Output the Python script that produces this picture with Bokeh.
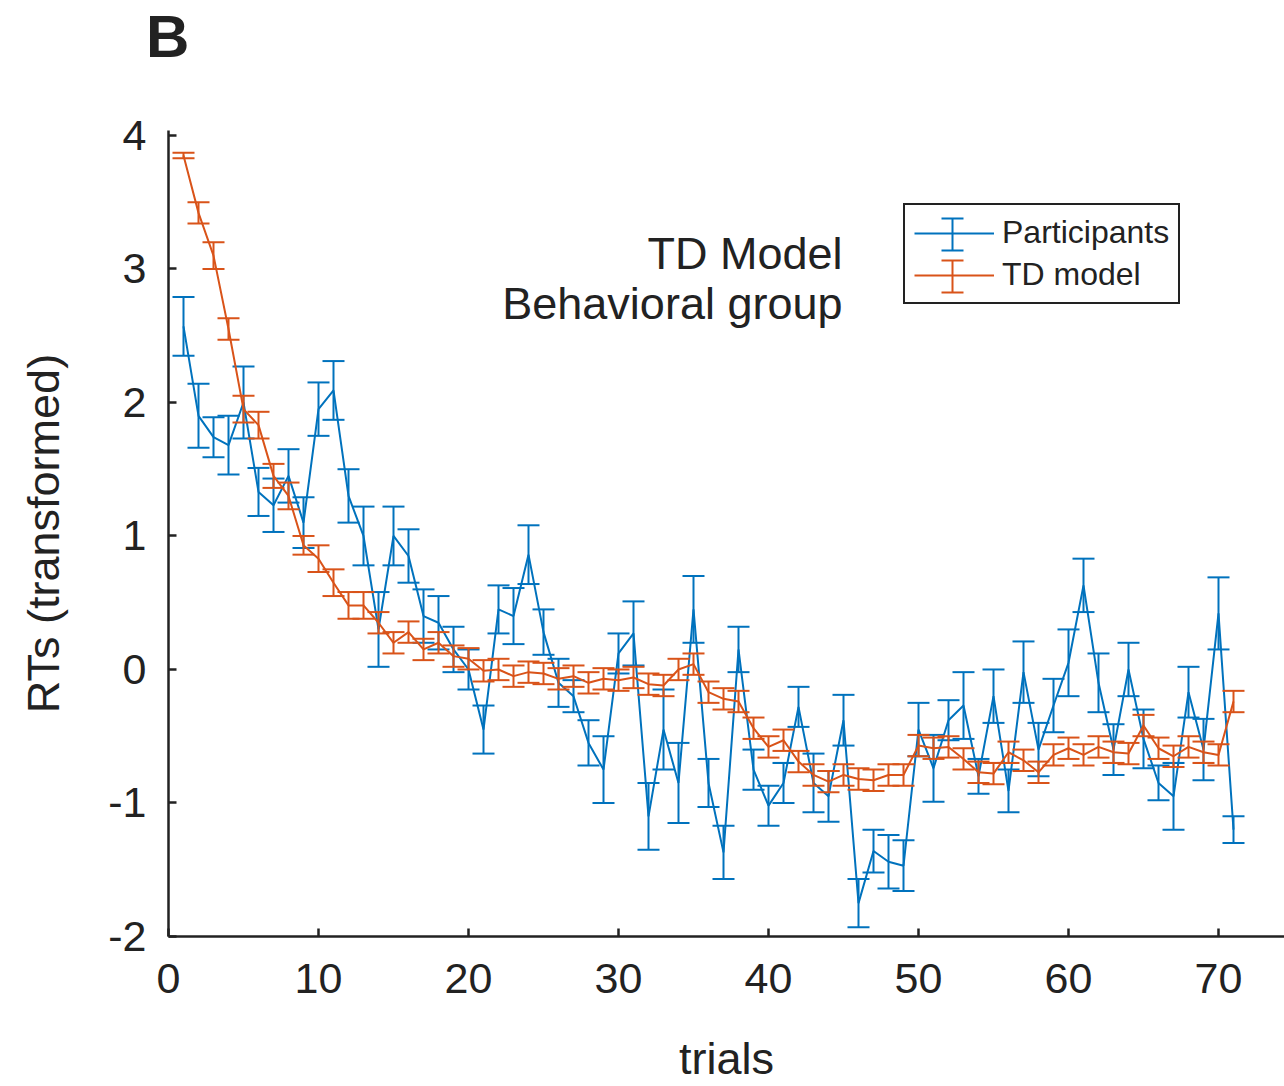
from bokeh.plotting import figure
from bokeh.layouts import column
from bokeh.models import (ColumnDataSource, Range1d, FixedTicker, Label, Legend,
                          LegendItem, Arrow, TeeHead, Div, PrintfTickFormatter)
from bokeh.embed import file_html
from bokeh.resources import INLINE

trials = list(range(1, 72))

participants_mean = [2.57, 1.90, 1.74, 1.68, 2.00, 1.33, 1.23, 1.45, 1.10, 1.95,
                     2.09, 1.30, 1.00, 0.30, 1.00, 0.85, 0.40, 0.35, 0.15, 0.00,
                     -0.45, 0.45, 0.40, 0.86, 0.28, -0.10, -0.20, -0.55, -0.75, 0.12,
                     0.27, -1.10, -0.45, -0.85, 0.45, -0.85, -1.37, 0.15, -0.75, -1.02,
                     -0.85, -0.28, -0.85, -0.95, -0.38, -1.75, -1.36, -1.44, -1.47, -0.45,
                     -0.74, -0.38, -0.27, -0.80, -0.20, -0.91, -0.02, -0.60, -0.27, 0.05,
                     0.63, -0.10, -0.60, 0.00, -0.52, -0.85, -0.95, -0.17, -0.60, 0.42,
                     -1.20]
participants_err = [0.22, 0.24, 0.15, 0.22, 0.27, 0.18, 0.20, 0.20, 0.19, 0.20,
                    0.22, 0.20, 0.22, 0.28, 0.22, 0.20, 0.20, 0.20, 0.17, 0.15,
                    0.18, 0.18, 0.21, 0.22, 0.17, 0.18, 0.12, 0.17, 0.25, 0.15,
                    0.24, 0.25, 0.30, 0.30, 0.25, 0.18, 0.20, 0.17, 0.15, 0.15,
                    0.15, 0.15, 0.22, 0.19, 0.19, 0.18, 0.16, 0.20, 0.19, 0.20,
                    0.25, 0.15, 0.25, 0.13, 0.20, 0.16, 0.23, 0.20, 0.20, 0.25,
                    0.20, 0.22, 0.19, 0.20, 0.22, 0.13, 0.25, 0.19, 0.23, 0.27,
                    0.10]

td_mean = [3.85, 3.42, 3.10, 2.55, 1.95, 1.83, 1.45, 1.30, 0.93, 0.83,
           0.65, 0.48, 0.48, 0.35, 0.20, 0.28, 0.15, 0.20, 0.10, 0.08,
           -0.01, 0.00, -0.05, -0.02, -0.03, -0.07, -0.05, -0.10, -0.07, -0.08,
           -0.06, -0.11, -0.12, 0.00, 0.04, -0.17, -0.22, -0.24, -0.44, -0.58,
           -0.53, -0.69, -0.79, -0.84, -0.79, -0.82, -0.83, -0.79, -0.79, -0.57,
           -0.59, -0.58, -0.67, -0.77, -0.78, -0.62, -0.68, -0.77, -0.64, -0.59,
           -0.64, -0.58, -0.62, -0.63, -0.42, -0.59, -0.65, -0.58, -0.62, -0.64,
           -0.24]
td_err = [0.02, 0.08, 0.10, 0.08, 0.10, 0.10, 0.09, 0.10, 0.07, 0.10,
          0.10, 0.10, 0.10, 0.08, 0.08, 0.08, 0.08, 0.08, 0.08, 0.08,
          0.08, 0.08, 0.08, 0.08, 0.08, 0.08, 0.08, 0.08, 0.08, 0.08,
          0.08, 0.08, 0.08, 0.08, 0.08, 0.08, 0.08, 0.08, 0.08, 0.08,
          0.08, 0.08, 0.08, 0.08, 0.08, 0.08, 0.08, 0.08, 0.08, 0.08,
          0.08, 0.08, 0.08, 0.08, 0.08, 0.08, 0.08, 0.08, 0.08, 0.08,
          0.08, 0.08, 0.08, 0.08, 0.08, 0.08, 0.08, 0.08, 0.08, 0.08,
          0.08]

x_ticks = [0, 10, 20, 30, 40, 50, 60, 70]
y_ticks = [-2, -1, 0, 1, 2, 3, 4]

BLUE = "#0072BD"
ORANGE = "#D95319"
FONT = "Liberation Sans"
INK = "#222222"

HEADER_H = 105

p = figure(width=1284, height=1086 - HEADER_H, output_backend="svg",
           toolbar_location=None,
           x_range=Range1d(0, 74.4), y_range=Range1d(-2, 4.037),
           min_border_left=168, min_border_right=0, min_border_top=130 - HEADER_H,
           min_border_bottom=146, margin=0)
p.outline_line_color = None
p.xgrid.visible = False
p.ygrid.visible = False
p.background_fill_color = "white"
p.border_fill_color = "white"


def series(mean, err, color):
    src = ColumnDataSource(dict(
        t=trials, m=mean,
        lo=[a - b for a, b in zip(mean, err)],
        hi=[a + b for a, b in zip(mean, err)]))
    p.segment(x0="t", y0="lo", x1="t", y1="hi", source=src,
              line_color=color, line_width=2)
    p.scatter(x="t", y="lo", source=src, marker="dash", size=22,
              line_color=color, line_width=2)
    p.scatter(x="t", y="hi", source=src, marker="dash", size=22,
              line_color=color, line_width=2)
    return p.line(x="t", y="m", source=src, line_color=color, line_width=2)


r_part = series(participants_mean, participants_err, BLUE)
r_td = series(td_mean, td_err, ORANGE)

for ax in (p.xaxis[0], p.yaxis[0]):
    ax.axis_line_width = 2.5
    ax.axis_line_color = INK
    ax.major_tick_line_color = INK
    ax.major_tick_line_width = 2.5
    ax.major_tick_in = 8
    ax.major_tick_out = 0
    ax.minor_tick_line_color = None
    ax.major_label_text_font = FONT
    ax.major_label_text_font_size = "43px"
    ax.major_label_text_color = INK
    ax.axis_label_text_font = FONT
    ax.axis_label_text_font_size = "45px"
    ax.axis_label_text_font_style = "normal"
    ax.axis_label_text_color = INK
    ax.formatter = PrintfTickFormatter(format="%d")

p.xaxis.ticker = FixedTicker(ticks=x_ticks)
p.yaxis.ticker = FixedTicker(ticks=y_ticks)
p.xaxis.axis_label = "trials"
p.yaxis.axis_label = "RTs (transformed)"
p.xaxis.major_label_standoff = 27
p.yaxis.major_label_standoff = 22
p.xaxis.axis_label_standoff = 37
p.yaxis.axis_label_standoff = 36

legend = Legend(items=[LegendItem(label="Participants", renderers=[r_part]),
                       LegendItem(label="TD model", renderers=[r_td])],
                location=(735, 632), orientation="vertical",
                glyph_width=80, glyph_height=36, label_height=36,
                label_standoff=8, padding=9, spacing=5, margin=0,
                label_text_font=FONT, label_text_font_size="32px",
                label_text_color=INK,
                border_line_color=INK, border_line_width=2, border_line_alpha=1,
                background_fill_alpha=0)
p.add_layout(legend, "center")

# error-bar icons in the legend
for yc, col in ((702, BLUE), (660, ORANGE)):
    p.add_layout(Arrow(x_start=784, y_start=yc - 16, x_end=784, y_end=yc + 16,
                       start_units="screen", end_units="screen",
                       line_color=col, line_width=2,
                       start=TeeHead(size=22, line_color=col, line_width=2),
                       end=TeeHead(size=22, line_color=col, line_width=2)))

for txt, yy in (("TD Model", 683), ("Behavioral group", 633)):
    p.add_layout(Label(x=674, y=yy, x_units="screen", y_units="screen", text=txt,
                       text_align="right", text_baseline="alphabetic",
                       text_font=FONT, text_font_size="45px", text_color=INK))

header = Div(text="B", width=1284, height=HEADER_H, margin=0,
             styles={"font-family": "'Liberation Sans', sans-serif",
                     "font-size": "60px", "font-weight": "bold",
                     "line-height": "60px", "color": INK,
                     "padding-left": "146px", "padding-top": "7px",
                     "box-sizing": "border-box", "background": "white"})

layout = column(header, p, spacing=0, margin=0)

open("out.html", "w").write(file_html(layout, INLINE))
